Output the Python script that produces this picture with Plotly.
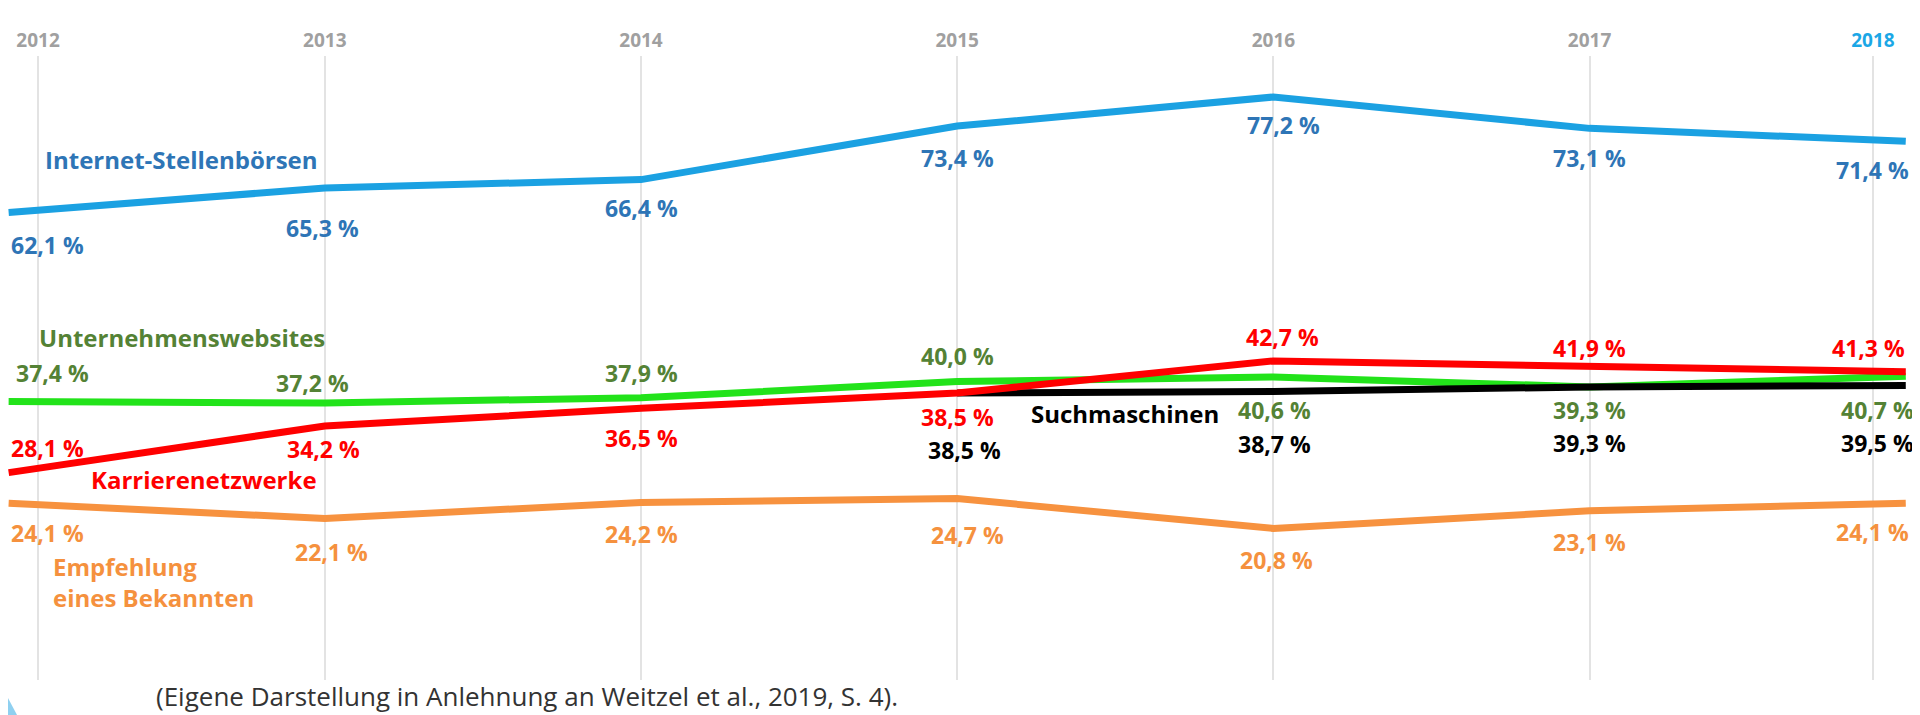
import plotly.graph_objects as go

# ---------------- data ----------------
years = [2012, 2013, 2014, 2015, 2016, 2017, 2018]
internet = [62.1, 65.3, 66.4, 73.4, 77.2, 73.1, 71.4]
websites = [37.4, 37.2, 37.9, 40.0, 40.6, 39.3, 40.7]
karriere = [28.1, 34.2, 36.5, 38.5, 42.7, 41.9, 41.3]
suchmaschinen = [None, None, None, 38.5, 38.7, 39.3, 39.5]
empfehlung = [24.1, 22.1, 24.2, 24.7, 20.8, 23.1, 24.1]

year_labels = ["2012", "2013", "2014", "2015", "2016", "2017", "2018"]
footer = "(Eigene Darstellung in Anlehnung an Weitzel et al., 2019, S. 4)."

# ---------------- geometry / styling ----------------
FONT = "Open Sans"
OFF = 8                      # default page (body) margin of the html file
FIG_W, FIG_H = 1920 - OFF, 715 - OFF
TOP, BOT = 56, 680           # plot area, in page pixels

series = [
    # name, values, line colour, text colour, label yshift, label xshift
    # (first label of each series is left-anchored at the left edge)
    ("Internet-Stellenbörsen", internet, "#1BA1E2", "#2E75B6",
     [-32, -40, -28, -32, -28, -30, -29], [0, -2, 0, 0, 10, 0, -33]),
    ("Empfehlung eines Bekannten", empfehlung, "#F7923F", "#F5913E",
     [-30, -33, -32, -36, -32, -31, -29], [0, 7, 0, 10, 3, 0, -33]),
    ("Unternehmenswebsites", websites, "#22E31A", "#548235",
     [28, 20, 25, 26, -33, -23, -34], [5, -12, 0, 0, 1, 0, -28]),
    ("Suchmaschinen", suchmaschinen, "#000000", "#000000",
     [0, 0, 0, -57, -52, -56, -58], [0, 0, 0, 7, 1, 0, -28]),
    ("Karrierenetzwerke", karriere, "#FF0000", "#FF0000",
     [25, -23, -30, -24, 24, 19, 24], [0, -1, 0, 0, 9, 0, -37]),
]

fig = go.Figure()
annotations = []


def fmt(v):
    return f"{v:.1f}".replace(".", ",") + " %"


for name, vals, lc, tc, ys, xs in series:
    fig.add_trace(go.Scatter(
        x=years, y=vals, mode="lines", name=name,
        line=dict(color=lc, width=7),
        connectgaps=False, hoverinfo="skip",
    ))
    for i, (yr, v, dy, dx) in enumerate(zip(years, vals, ys, xs)):
        if v is None:
            continue
        annotations.append(dict(
            x=yr, y=v, xref="x", yref="y", text=fmt(v), showarrow=False,
            xanchor="left" if i == 0 else "center", yanchor="middle",
            xshift=dx, yshift=dy,
            font=dict(family=FONT, size=23, color=tc, weight=700),
        ))


def paper(xp, yp):
    """page pixel -> paper coordinates"""
    return (xp - OFF) / FIG_W, (BOT - yp) / (BOT - TOP)


name_labels = [
    ("Internet-Stellenbörsen", "#2E75B6", 43, 160),
    ("Unternehmenswebsites", "#548235", 37, 338),
    ("Karrierenetzwerke", "#FF0000", 89, 479),
    ("Suchmaschinen", "#000000", 1029, 413),
    ("Empfehlung", "#F5913E", 51, 566),
    ("eines Bekannten", "#F5913E", 51, 597),
]
for txt, col, xp, yp in name_labels:
    ax, ay = paper(xp, yp)
    annotations.append(dict(
        x=ax, y=ay, xref="paper", yref="paper", text=txt, showarrow=False,
        xanchor="left", yanchor="middle",
        font=dict(family=FONT, size=24, color=col, weight=700),
    ))

fx, fy = paper(527, 696)
annotations.append(dict(
    x=fx, y=fy, xref="paper", yref="paper", text=footer, showarrow=False,
    xanchor="center", yanchor="middle",
    font=dict(family=FONT, size=26, color="#333333"),
))

tick_vals = [2012.093, 2013, 2014, 2015, 2016, 2017, 2017.896]
tick_text = [f'<span style="color:#A0A0A0">{t}</span>' for t in year_labels[:-1]]
tick_text.append(f'<span style="color:#1BA7E6">{year_labels[-1]}</span>')

tx0, ty0 = paper(OFF, 698)
tx1, ty1 = paper(OFF, 715)
tx2, _ = paper(OFF + 9, 715)

fig.update_layout(
    width=FIG_W, height=FIG_H,
    margin=dict(l=0, r=0, t=TOP - OFF, b=FIG_H - (BOT - OFF)),
    paper_bgcolor="white", plot_bgcolor="white",
    showlegend=False,
    annotations=annotations,
    xaxis=dict(
        range=[2011.998, 2018.045], side="top",
        tickmode="array", tickvals=tick_vals, ticktext=tick_text,
        showgrid=True, gridcolor="#E3E3E3", gridwidth=2,
        zeroline=False, showline=False, ticks="",
        ticklabelstandoff=4,
        tickfont=dict(family=FONT, size=19, color="#A0A0A0", weight=700),
        fixedrange=True,
    ),
    yaxis=dict(range=[0.99, 82.56], visible=False, fixedrange=True),
    shapes=[dict(
        type="path", xref="paper", yref="paper",
        path=f"M {tx0} {ty0} L {tx1} {ty1} L {tx2} {ty1} Z",
        line=dict(width=0), fillcolor="#8FD0F0", layer="above",
    )],
)

fig.write_html("out.html")
